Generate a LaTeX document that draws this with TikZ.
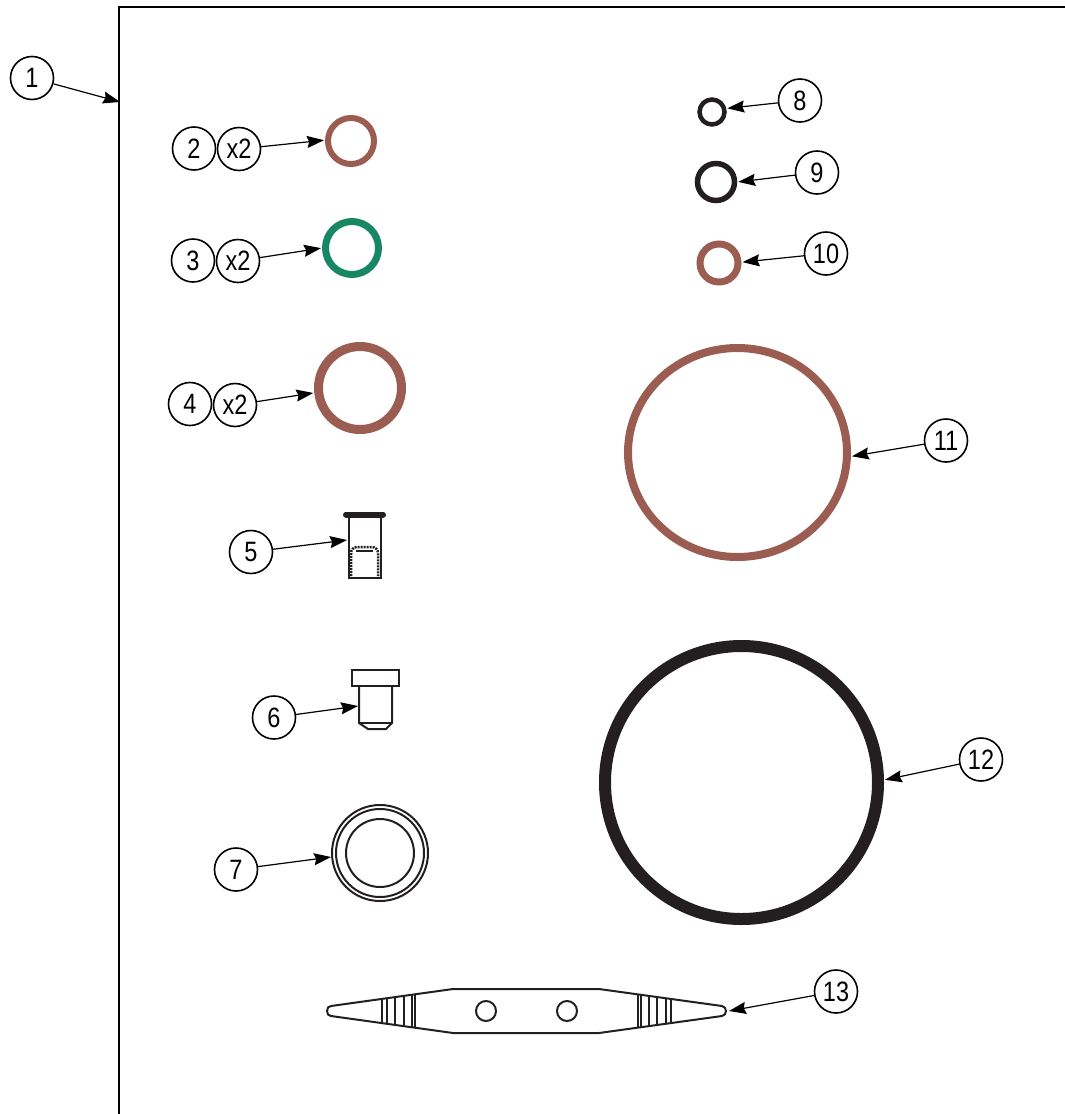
\documentclass[tikz,border=0pt]{standalone}
\usepackage{fontspec}
\setmainfont{Liberation Sans}
\usetikzlibrary{arrows.meta,shapes.geometric}
\definecolor{ringbrown}{HTML}{9B5C52}
\definecolor{ringgreen}{HTML}{168663}
\definecolor{ringblack}{HTML}{231F20}
\newcommand{\calltext}[1]{\scalebox{0.84}[1]{\fontsize{28}{28}\selectfont #1}}
\tikzset{
    callout/.style={draw=black,circle,line width=1.6pt,minimum size=43,inner sep=0,fill=white},
    ring/.style={draw,circle,inner sep=0},
    leader/.style={line width=1.2pt,-{Stealth[length=17,width=12,inset=2]}},
    partline/.style={draw=ringblack,line width=2pt}
}
\begin{document}
\begin{tikzpicture}[x=1pt,y=-1pt]
            \useasboundingbox (0,0) rectangle (1065,1114);
            \draw[line width=1.9pt] (119,1114)--(119,7)--(1065,7);
            \coordinate (frameleft) at (120,102);
            \node[callout] (c1) at (32,78) {\calltext{1}};
            \node[callout] (c2) at (194,148.5) {\calltext{2}};
            \node[callout] (x2) at (239,149) {\calltext{x2}};
            \node[callout] (c3) at (193,260.5) {\calltext{3}};
            \node[callout] (x3) at (238,261) {\calltext{x2}};
            \node[callout] (c4) at (190,404) {\calltext{4}};
            \node[callout] (x4) at (235,405) {\calltext{x2}};
            \node[callout] (c5) at (251,552) {\calltext{5}};
            \node[callout] (c6) at (274,717.5) {\calltext{6}};
            \node[callout] (c7) at (236,869.5) {\calltext{7}};
            \node[callout] (c8) at (800,100.5) {\calltext{8}};
            \node[callout] (c9) at (817,172.5) {\calltext{9}};
            \node[callout] (c10) at (826,253.5) {\calltext{10}};
            \node[callout] (c11) at (946,440.5) {\calltext{11}};
            \node[callout] (c12) at (981,759.5) {\calltext{12}};
            \node[callout] (c13) at (836,991.5) {\calltext{13}};
            \node[ring,draw=ringbrown,line width=6pt,minimum size=46] (r2) at (351,141) {};
            \node[ring,draw=ringgreen,line width=7pt,minimum size=53] (r3) at (352,248) {};
            \node[ring,draw=ringbrown,line width=9pt,minimum size=83] (r4) at (360,388) {};
            \node[ring,draw=ringblack,line width=4.5pt,minimum size=25] (r8) at (712,112) {};
            \node[ring,draw=ringblack,line width=5.5pt,minimum size=37] (r9) at (716,182) {};
            \node[ring,draw=ringbrown,line width=7pt,minimum size=38] (r10) at (719,263) {};
            \node[draw=ringbrown,ellipse,line width=8pt,inner sep=0,minimum width=219,minimum height=209] (r11) at (737.5,452.5) {};
            \node[ring,draw=ringblack,line width=12pt,minimum size=273] (r12) at (741.5,782.5) {};
            \draw[partline,line width=6pt,line cap=round] (346,514.5)--(383,514.5);
            \draw[partline] (348.5,517)--(348.5,578)--(380.5,578)--(380.5,517);
            \draw[partline,densely dotted,line width=2.5pt] (351,576)--(351,553) to[out=90,in=180] (357,547)--(372,547) to[out=0,in=90] (378,553)--(378,576);
            \draw[partline,line width=2.5pt] (356,551)--(373,551);
            \coordinate (p5) at (347,540);
            \draw[partline] (352,670) rectangle (399,686);
            \draw[partline] (359,686)--(359,723)--(368,729)--(386,729)--(392,723)--(392,686);
            \draw[partline] (359,723)--(392,723);
            \coordinate (p6) at (358,706);
            \foreach \r in {48,44,34}{
                \draw[partline] (380,853) circle (\r);
            }
            \coordinate (p7) at (331,857);
            \draw[partline,line join=round] (331,1006)--(453,989)--(599,989)--(722,1006)
                to[out=-10,in=90] (726,1011) to[out=-90,in=10] (722,1016)
                --(599,1033)--(453,1033)--(331,1016)
                to[out=190,in=-90] (327,1011) to[out=90,in=170] cycle;
            \foreach \x in {486,567}{
                \draw[partline] (\x,1011) circle (10);
            }
            \foreach \x in {382,387,395,404,412,415,638,641,649,657,666,671}{
                \draw[partline,line width=1.5pt] (\x,{1011-5-0.139*(195.5-abs(\x-526.5))}) -- (\x,{1011+5+0.139*(195.5-abs(\x-526.5))});
            }
            \coordinate (p13) at (729,1011);
            \draw[leader] (c1)--(frameleft);
            \draw[leader,shorten >=1] (x2)--(r2.178);
            \draw[leader,shorten >=1] (x3)--(r3.180);
            \draw[leader,shorten >=1] (x4)--(r4.186);
            \draw[leader] (c5)--(p5);
            \draw[leader] (c6)--(p6);
            \draw[leader] (c7)--(p7);
            \draw[leader,shorten >=1] (c8)--(r8.14);
            \draw[leader,shorten >=1] (c9)--(r9.0);
            \draw[leader,shorten >=1] (c10)--(r10.2);
            \draw[leader,shorten >=1] (c11)--(r11.-2);
            \draw[leader,shorten >=1] (c12)--(r12.1);
            \draw[leader] (c13)--(p13);
        \end{tikzpicture}
\end{document}
